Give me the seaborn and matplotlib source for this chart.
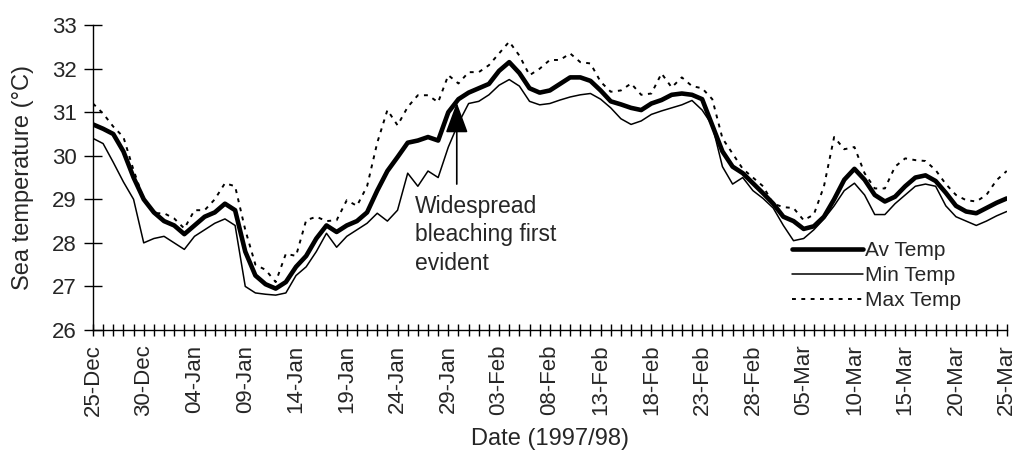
import pandas as pd
import seaborn as sns
import matplotlib.pyplot as plt

# daily sea temperatures, 25-Dec-1997 .. 25-Mar-1998
dates = pd.date_range('1997-12-25', '1998-03-25', freq='D')

av_temp = [30.72, 30.62, 30.5, 30.1, 29.5, 29.0, 28.7, 28.5, 28.4, 28.2,
           28.4, 28.6, 28.7, 28.9, 28.75, 27.8, 27.25, 27.05, 26.95, 27.1,
           27.45, 27.7, 28.1, 28.4, 28.25, 28.4, 28.5, 28.7, 29.2, 29.65,
           29.97, 30.3, 30.35, 30.43, 30.35, 31.0, 31.3, 31.45, 31.55, 31.65,
           31.95, 32.15, 31.9, 31.55, 31.45, 31.5, 31.65, 31.8, 31.8, 31.72,
           31.5, 31.25, 31.18, 31.1, 31.05, 31.2, 31.28, 31.4, 31.43, 31.4,
           31.3, 30.7, 30.1, 29.75, 29.6, 29.37, 29.14, 28.9, 28.6, 28.5,
           28.32, 28.38, 28.6, 29.0, 29.45, 29.7, 29.45, 29.1, 28.95, 29.06,
           29.3, 29.5, 29.55, 29.42, 29.15, 28.85, 28.72, 28.68, 28.8, 28.92,
           29.02]

min_temp = [30.4, 30.28, 29.85, 29.4, 29.0, 28.0, 28.1, 28.15, 28.0, 27.85,
            28.15, 28.3, 28.45, 28.55, 28.4, 27.0, 26.85, 26.82, 26.8, 26.85,
            27.25, 27.45, 27.8, 28.22, 27.9, 28.15, 28.3, 28.45, 28.68, 28.5,
            28.75, 29.6, 29.3, 29.65, 29.5, 30.2, 30.75, 31.2, 31.25, 31.4,
            31.62, 31.75, 31.6, 31.25, 31.17, 31.2, 31.28, 31.35, 31.4, 31.43,
            31.3, 31.1, 30.85, 30.72, 30.8, 30.95, 31.03, 31.1, 31.17, 31.27,
            31.05, 30.7, 29.75, 29.35, 29.5, 29.2, 29.02, 28.8, 28.4, 28.05,
            28.1, 28.3, 28.55, 28.85, 29.2, 29.37, 29.1, 28.65, 28.65, 28.9,
            29.1, 29.3, 29.35, 29.3, 28.85, 28.6, 28.5, 28.4, 28.5, 28.62,
            28.72]

max_temp = [31.2, 30.97, 30.67, 30.43, 29.67, 29.0, 28.68, 28.68, 28.56, 28.33,
            28.75, 28.75, 29.0, 29.37, 29.3, 28.3, 27.5, 27.38, 27.1, 27.75,
            27.7, 28.52, 28.6, 28.5, 28.52, 28.98, 28.85, 29.3, 30.3, 31.05,
            30.7, 31.12, 31.39, 31.39, 31.23, 31.85, 31.66, 31.92, 31.92, 32.08,
            32.35, 32.62, 32.3, 31.85, 32.0, 32.2, 32.2, 32.35, 32.15, 32.12,
            31.7, 31.47, 31.5, 31.66, 31.4, 31.43, 31.89, 31.57, 31.8, 31.6,
            31.55, 31.3, 30.4, 30.05, 29.7, 29.5, 29.3, 28.9, 28.82, 28.8,
            28.52, 28.65, 29.3, 30.43, 30.15, 30.2, 29.6, 29.25, 29.25, 29.75,
            29.94, 29.9, 29.88, 29.67, 29.35, 29.1, 28.98, 28.95, 29.1, 29.44,
            29.65]

tick_dates = pd.date_range('1997-12-25', '1998-03-25', freq='5D')
y_ticks = [26, 27, 28, 29, 30, 31, 32, 33]

df = pd.DataFrame({'date': dates, 'Av Temp': av_temp,
                   'Min Temp': min_temp, 'Max Temp': max_temp})

sns.set_style('ticks')
plt.rcParams['font.family'] = ['Liberation Sans', 'DejaVu Sans']

fig = plt.figure(figsize=(10.17, 4.57), dpi=100)
ax = fig.add_axes([0.0914, 0.278, 0.8985, 0.667])

sns.lineplot(data=df, x='date', y='Av Temp', ax=ax, color='black',
             linewidth=3.3, label='Av Temp')
sns.lineplot(data=df, x='date', y='Min Temp', ax=ax, color='black',
             linewidth=1.1, label='Min Temp')
sns.lineplot(data=df, x='date', y='Max Temp', ax=ax, color='black',
             linewidth=1.4, linestyle=(0, (2.0, 2.8)), label='Max Temp')

ax.set_xlim(dates[0], dates[-1])
ax.set_ylim(26, 33)
ax.set_yticks(y_ticks)
ax.set_xticks(tick_dates)
ax.set_xticklabels([d.strftime('%d-%b') for d in tick_dates], rotation=90)
ax.set_xticks(dates, minor=True)

ax.tick_params(axis='both', which='both', direction='inout', color='black',
               width=1, labelsize=16)
ax.tick_params(axis='x', which='both', length=9, pad=6)
ax.tick_params(axis='y', length=13, pad=5)

for side in ['top', 'right']:
    ax.spines[side].set_visible(False)
for side in ['left', 'bottom']:
    ax.spines[side].set_color('black')
    ax.spines[side].set_linewidth(1)

ax.set_xlabel('Date (1997/98)', fontsize=17, labelpad=8)
ax.set_ylabel('Sea temperature (°C)', fontsize=17, labelpad=13)

# bleaching annotation
arrow_date = pd.Timestamp('1998-01-29 20:00')
ax.annotate('', xy=(arrow_date, 31.22), xytext=(arrow_date, 29.35),
            arrowprops=dict(arrowstyle='-|>,head_length=0.95,head_width=0.35',
                            color='black', lw=1.2, mutation_scale=20,
                            shrinkA=0, shrinkB=0))
ax.text(pd.Timestamp('1998-01-25 17:00'), 29.1,
        'Widespread\nbleaching first\nevident', fontsize=16.5,
        va='top', ha='left', linespacing=1.3)

ax.legend(loc='upper left', bbox_to_anchor=(0.765, 0.292), frameon=False,
          fontsize=15, handlelength=3.4, handletextpad=0.1,
          labelspacing=0.3, borderpad=0, borderaxespad=0)

fig.savefig('out.png', dpi=100)
